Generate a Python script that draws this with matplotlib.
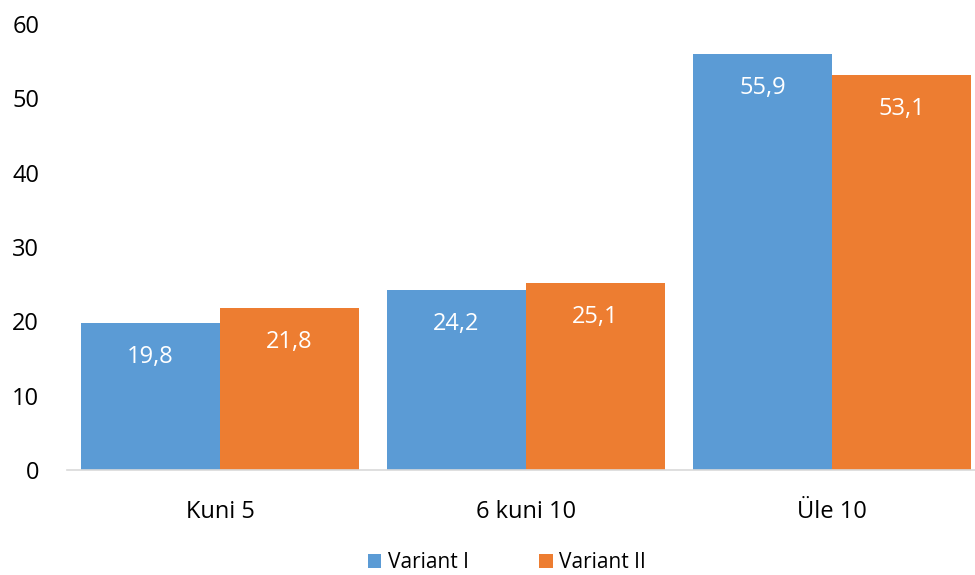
import matplotlib
matplotlib.use('Agg')
import matplotlib.pyplot as plt
import numpy as np

categories = ['Kuni 5', '6 kuni 10', 'Üle 10']
variant_1 = [19.8, 24.2, 55.9]
variant_2 = [21.8, 25.1, 53.1]
series_names = ['Variant I', 'Variant II']
y_ticks = [0, 10, 20, 30, 40, 50, 60]

plt.rcParams['font.family'] = ['Open Sans', 'DejaVu Sans']

blue = '#5B9BD5'
orange = '#ED7D31'

fig = plt.figure(figsize=(9.75, 5.75), dpi=100)
ax = fig.add_axes([67 / 975, 105 / 575, 918 / 975, 446 / 575])

x = np.arange(len(categories))
w = 0.4545
b1 = ax.bar(x - w / 2, variant_1, w, color=blue, label=series_names[0])
b2 = ax.bar(x + w / 2, variant_2, w, color=orange, label=series_names[1])

# väärtused tulpade sisse, ülaserva lähedale
for bars in (b1, b2):
    for rect in bars:
        h = rect.get_height()
        ax.annotate(f'{h:.1f}'.replace('.', ','),
                    (rect.get_x() + rect.get_width() / 2, h),
                    xytext=(0, -34), textcoords='offset pixels',
                    ha='center', va='center', color='white', fontsize=17)

ax.set_xlim(-0.5, 2.5)
ax.set_ylim(0, 60)
ax.set_yticks(y_ticks)
ax.set_xticks(x)
ax.set_xticklabels(categories)
ax.tick_params(axis='both', length=0, labelsize=17, colors='black')
ax.tick_params(axis='y', pad=20)
ax.tick_params(axis='x', pad=21.5)

for s in ['top', 'right', 'left']:
    ax.spines[s].set_visible(False)
ax.spines['bottom'].set_color('#D9D9D9')
ax.spines['bottom'].set_linewidth(1.2)

fig.legend(loc='center', bbox_to_anchor=(507 / 975, 1 - 563 / 575), ncol=2,
           frameon=False, fontsize=15, handlelength=0.65, handleheight=0.65,
           handletextpad=0.3, columnspacing=3.4)

fig.savefig('out.png', dpi=100)
